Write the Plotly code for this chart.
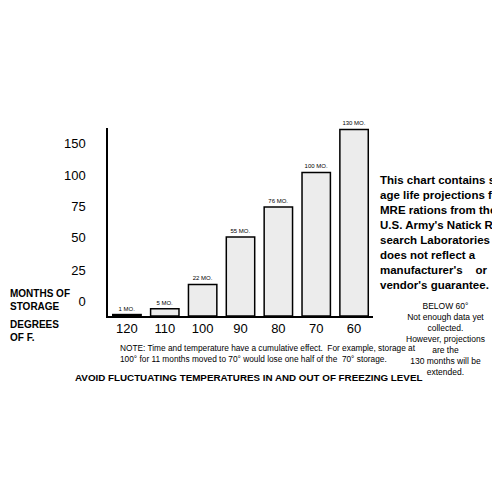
import plotly.graph_objects as go

temps = ["120", "110", "100", "90", "80", "70", "60"]
months = [1, 5, 22, 55, 76, 100, 130]
bar_labels = ["1 MO.", "5 MO.", "22 MO.", "55 MO.", "76 MO.", "100 MO.", "130 MO."]
# the printed scale is uneven; labels sit where the original draws them
tick_vals = [10, 32, 55, 76, 98, 120]
tick_text = ["0", "25", "50", "75", "100", "150"]

FONT = "Liberation Sans, Arial, sans-serif"
NARROW = "Liberation Sans Narrow, Arial Narrow, Liberation Sans, sans-serif"

fig = go.Figure(go.Bar(
    x=temps, y=months,
    text=bar_labels, textposition="outside",
    textfont=dict(size=6, color="black", family=FONT),
    marker=dict(color="#ececec", line=dict(color="black", width=1.5)),
    cliponaxis=False,
))

fig.update_layout(
    width=500, height=500,
    margin=dict(l=0, r=0, t=0, b=0),
    paper_bgcolor="white", plot_bgcolor="white",
    showlegend=False, bargap=0.25,
    font=dict(family=FONT, color="black"),
    xaxis=dict(domain=[0.2, 0.73], showline=True, linecolor="black", linewidth=1.5,
               ticks="", tickfont=dict(size=13), fixedrange=True),
    yaxis=dict(domain=[0.384, 0.76], range=[0, 131], showline=True, linecolor="black",
               linewidth=1.5, showgrid=False, zeroline=False, ticks="",
               tickvals=tick_vals, ticktext=tick_text, tickfont=dict(size=13),
               ticklabelstandoff=18),
)

def note(text, x, y, size, bold=False, align="left", xanchor="left", family=FONT):
    if bold:
        text = "<b>" + text + "</b>"
    fig.add_annotation(text=text, x=x, y=y, xref="paper", yref="paper",
                       xanchor=xanchor, yanchor="top", showarrow=False, align=align,
                       font=dict(size=size, family=family, color="black"))

note("MONTHS OF<br>STORAGE", 0.0, 1 - 278 / 500, 10, bold=True)
note("DEGREES<br>OF F.", 0.0, 1 - 309 / 500, 10, bold=True)
note("This chart contains stor-<br>age life projections for<br>MRE rations from the<br>"
     "U.S. Army's Natick Re-<br>search Laboratories and<br>does not reflect a<br>"
     "manufacturer's &nbsp;&nbsp; or<br>vendor's guarantee.",
     0.74, 1 - 164 / 500, 11.5, bold=True, family=NARROW)
note("BELOW 60°<br>Not enough data yet<br>collected.<br>However, projections<br>"
     "are the<br>130 months will be<br>extended.",
     0.875, 1 - 291 / 500, 8.5, align="center", xanchor="center")
note("NOTE: Time and temperature have a cumulative effect.  For example, storage at<br>"
     "100° for 11 months moved to 70° would lose one half of the  70° storage.",
     0.22, 1 - 333 / 500, 8.3)
note("AVOID FLUCTUATING TEMPERATURES IN AND OUT OF FREEZING LEVEL",
     0.13, 1 - 362 / 500, 9.8, bold=True)

fig.write_html("out.html")
